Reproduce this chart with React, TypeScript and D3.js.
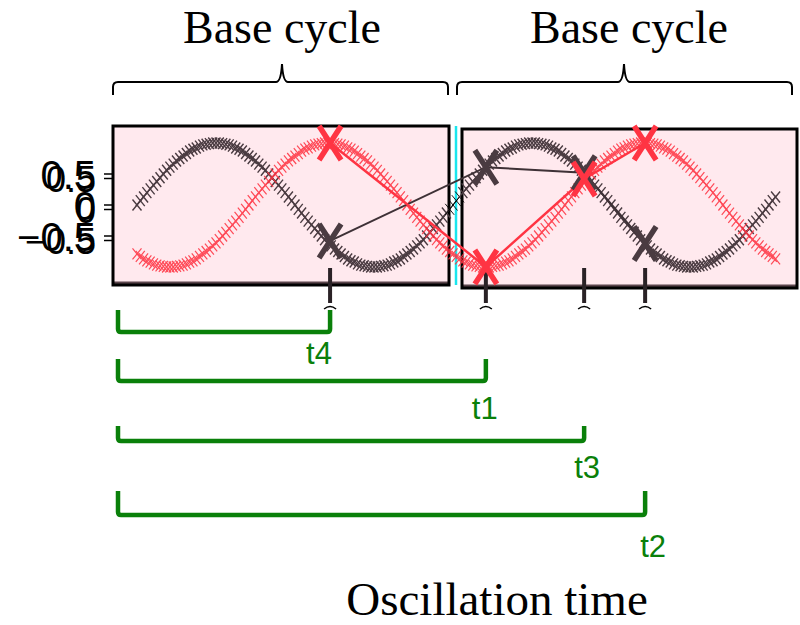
import React from 'react';
import * as d3 from 'd3';

// ---------- data ----------
const samplesPerCycle = 96;

const darkSeries = [
  0.00,0.07,0.13,0.20,0.26,0.32,0.38,0.44,0.50,0.56,0.61,0.66,0.71,0.75,0.79,0.83,0.87,0.90,0.92,0.95,0.97,0.98,0.99,1.00,1.00,
  1.00,0.99,0.98,0.97,0.95,0.92,0.90,0.87,0.83,0.79,0.75,0.71,0.66,0.61,0.56,0.50,0.44,0.38,0.32,0.26,0.20,0.13,0.07,0.00,
  -0.07,-0.13,-0.20,-0.26,-0.32,-0.38,-0.44,-0.50,-0.56,-0.61,-0.66,-0.71,-0.75,-0.79,-0.83,-0.87,-0.90,-0.92,-0.95,-0.97,-0.98,-0.99,-1.00,-1.00,
  -1.00,-0.99,-0.98,-0.97,-0.95,-0.92,-0.90,-0.87,-0.83,-0.79,-0.75,-0.71,-0.66,-0.61,-0.56,-0.50,-0.44,-0.38,-0.32,-0.26,-0.20,-0.13,-0.07,
  0.00,0.07,0.13,0.20,0.26,0.32,0.38,0.44,0.50,0.56,0.61,0.66,0.71,0.75,0.79,0.83,0.87,0.90,0.92,0.95,0.97,0.98,0.99,1.00,1.00,
  1.00,0.99,0.98,0.97,0.95,0.92,0.90,0.87,0.83,0.79,0.75,0.71,0.66,0.61,0.56,0.50,0.44,0.38,0.32,0.26,0.20,0.13,0.07,0.00,
  -0.07,-0.13,-0.20,-0.26,-0.32,-0.38,-0.44,-0.50,-0.56,-0.61,-0.66,-0.71,-0.75,-0.79,-0.83,-0.87,-0.90,-0.92,-0.95,-0.97,-0.98,-0.99,-1.00,-1.00,
  -1.00,-0.99,-0.98,-0.97,-0.95,-0.92,-0.90,-0.87,-0.83,-0.79,-0.75,-0.71,-0.66,-0.61,-0.56,-0.50,-0.44,-0.38,-0.32,-0.26,-0.20,-0.13,-0.07,
  0.00,0.07,0.13,
];

const redSeries = [
  -0.79,-0.83,-0.87,-0.90,-0.92,-0.95,-0.97,-0.98,-0.99,-1.00,-1.00,
  -1.00,-0.99,-0.98,-0.97,-0.95,-0.92,-0.90,-0.87,-0.83,-0.79,-0.75,-0.71,-0.66,-0.61,-0.56,-0.50,-0.44,-0.38,-0.32,-0.26,-0.20,-0.13,-0.07,
  0.00,0.07,0.13,0.20,0.26,0.32,0.38,0.44,0.50,0.56,0.61,0.66,0.71,0.75,0.79,0.83,0.87,0.90,0.92,0.95,0.97,0.98,0.99,1.00,1.00,
  1.00,0.99,0.98,0.97,0.95,0.92,0.90,0.87,0.83,0.79,0.75,0.71,0.66,0.61,0.56,0.50,0.44,0.38,0.32,0.26,0.20,0.13,0.07,0.00,
  -0.07,-0.13,-0.20,-0.26,-0.32,-0.38,-0.44,-0.50,-0.56,-0.61,-0.66,-0.71,-0.75,-0.79,-0.83,-0.87,-0.90,-0.92,-0.95,-0.97,-0.98,-0.99,-1.00,-1.00,
  -1.00,-0.99,-0.98,-0.97,-0.95,-0.92,-0.90,-0.87,-0.83,-0.79,-0.75,-0.71,-0.66,-0.61,-0.56,-0.50,-0.44,-0.38,-0.32,-0.26,-0.20,-0.13,-0.07,
  0.00,0.07,0.13,0.20,0.26,0.32,0.38,0.44,0.50,0.56,0.61,0.66,0.71,0.75,0.79,0.83,0.87,0.90,0.92,0.95,0.97,0.98,0.99,1.00,1.00,
  1.00,0.99,0.98,0.97,0.95,0.92,0.90,0.87,0.83,0.79,0.75,0.71,0.66,0.61,0.56,0.50,0.44,0.38,0.32,0.26,0.20,0.13,0.07,0.00,
  -0.07,-0.13,-0.20,-0.26,-0.32,-0.38,-0.44,-0.50,-0.56,-0.61,-0.66,-0.71,-0.75,-0.79,-0.83,-0.87,
];

const yTicks = [0.5, 0, -0.5];
const yTickLabels = ['0.5', '0', '\u22120.5'];

const eventLabels = ['t4', 't1', 't3', 't2'];
const eventTimes = [0.611, 1.104, 1.415, 1.608];
const darkAtEvents = [-0.58, 0.61, 0.52, -0.62];
const redAtEvents = [1.0, -1.0, 0.42, 1.0];

const cycleLabels = ['Base cycle', 'Base cycle'];
const xAxisTitle = 'Oscillation time';

// ---------- layout ----------
const W = 800;
const H = 625;
const panels = [
  { x0: 113, x1: 449, y0: 126, y1: 285 },
  { x0: 462, x1: 797, y0: 129, y1: 288 },
];
const braces = [
  { x0: 113, x1: 448, mid: 282, textX: 282 },
  { x0: 457, x1: 792, mid: 624, textX: 629 },
];
const bracketLeft = 118;
const bracketTops = [310, 359, 426, 491];
const bracketBottoms = [332, 381, 441, 515];
const labelDx = [-24, -14, -10, -5];
const labelBaselines = [364, 419, 478, 557];

const DARK = '#4a3b41';
const RED = '#ff3443';
const GREEN = '#0a800a';
const PINK = '#ffe9ee';

function crossPath(x: number, y: number, hx: number, hy: number) {
  return `M${x - hx},${y - hy}L${x + hx},${y + hy}M${x + hx},${y - hy}L${x - hx},${y + hy}`;
}

export default function App() {
  const x = d3.scaleLinear().domain([0, 2]).range([137, 769]);
  const y = d3.scaleLinear().domain([-1, 1]).range([267, 143]);

  const darkPts = darkSeries.map((v, i) => [x(i / samplesPerCycle), y(v)] as [number, number]);
  const redPts = redSeries.map((v, i) => [x(i / samplesPerCycle), y(v)] as [number, number]);

  const line = d3.line<[number, number]>().x(d => d[0]).y(d => d[1]);
  const darkEv = eventTimes.map((t, i) => [x(t), y(darkAtEvents[i])] as [number, number]);
  const redEv = eventTimes.map((t, i) => [x(t), y(redAtEvents[i])] as [number, number]);

  const sans = "'Liberation Sans', Arial, sans-serif";
  const serif = "'Liberation Serif', 'Times New Roman', serif";

  const bracePath = (b: typeof braces[number]) =>
    `M${b.x0},95V87Q${b.x0},82 ${b.x0 + 5},82H${b.mid - 6}Q${b.mid - 1},82 ${b.mid},64Q${b.mid + 1},82 ${b.mid + 6},82H${b.x1 - 5}Q${b.x1},82 ${b.x1},87V95`;

  const inGap = (px: number) => px > 449 && px < 462;

  return (
    <svg width={W} height={H} style={{ position: 'absolute', left: 0, top: 0, background: '#fff' }}>
      {/* panels */}
      {panels.map((p, i) => (
        <g key={i}>
          <rect x={p.x0} y={p.y0} width={p.x1 - p.x0} height={p.y1 - p.y0} fill={PINK} />
          <line x1={p.x0} x2={p.x1} y1={p.y1 - 2} y2={p.y1 - 2} stroke="#5a454b" strokeWidth={3} />
          <rect x={p.x0} y={p.y0} width={p.x1 - p.x0} height={p.y1 - p.y0} fill="none" stroke="#000" strokeWidth={3} />
        </g>
      ))}
      <line x1={456} x2={456} y1={126} y2={285} stroke="#19e6ee" strokeWidth={2.5} />

      {/* y axis: two overlapping tick/label sets (one per panel) */}
      {yTicks.map((t, i) => (
        <g key={i}>
          <line x1={104} x2={112} y1={y(t)} y2={y(t)} stroke="#000" strokeWidth={1.5} />
          <line x1={104} x2={112} y1={y(t) + 4.5} y2={y(t) + 4.5} stroke="#000" strokeWidth={1.5} />
          <text x={96} y={y(t) + 1} textAnchor="end" dominantBaseline="central" fontFamily={sans} fontSize={40} fill="#000">
            {yTickLabels[i]}
          </text>
          <text x={96} y={y(t) + 5} textAnchor="end" dominantBaseline="central" fontFamily={sans} fontSize={36} fill="#000">
            {yTickLabels[i]}
          </text>
        </g>
      ))}

      {/* dark series markers */}
      <g fill="none">
        {darkPts.map((p, i) => (
          <path key={i} d={crossPath(p[0], p[1], 4.5, 5.5)}
            stroke={inGap(p[0]) ? '#000' : DARK} strokeWidth={inGap(p[0]) ? 0.9 : 1.4} />
        ))}
      </g>
      {/* red series markers */}
      <g stroke={RED} strokeWidth={1.2} fill="none" opacity={0.88}>
        {redPts.map((p, i) => (
          <path key={i} d={crossPath(p[0], p[1], 4.5, 5.5)} />
        ))}
      </g>

      {/* event connectors */}
      <path d={line(darkEv) || ''} fill="none" stroke="#3e3136" strokeWidth={2} />
      <path d={line(redEv) || ''} fill="none" stroke={RED} strokeWidth={2.5} />

      {/* event ticks */}
      {eventTimes.map((t, i) => (
        <g key={i}>
          <line x1={x(t)} x2={x(t)} y1={268} y2={303} stroke="#2a2226" strokeWidth={4} />
          <path d={`M${x(t) - 6},309Q${x(t)},304 ${x(t) + 6},309`} fill="none" stroke="#000" strokeWidth={1.5} />
        </g>
      ))}

      {/* event big markers */}
      {darkEv.map((p, i) => (
        <path key={'d' + i} d={crossPath(p[0], p[1], 11, 17)} stroke={DARK} strokeWidth={5.5} fill="none" />
      ))}
      {redEv.map((p, i) => (
        <path key={'r' + i} d={crossPath(p[0], p[1], 11, 17)} stroke={RED} strokeWidth={5.5} fill="none" />
      ))}

      {/* braces */}
      {braces.map((b, i) => (
        <g key={i}>
          <path d={bracePath(b)} fill="none" stroke="#000" strokeWidth={2} />
          <text x={b.textX} y={43} textAnchor="middle" fontFamily={serif} fontSize={46} fill="#000">
            {cycleLabels[i]}
          </text>
        </g>
      ))}

      {/* green interval brackets */}
      {eventTimes.map((t, i) => {
        const xe = x(t);
        const top = bracketTops[i];
        const bot = bracketBottoms[i];
        return (
          <g key={i}>
            <path
              d={`M${bracketLeft},${top}V${bot - 3}Q${bracketLeft},${bot} ${bracketLeft + 3},${bot}H${xe - 3}Q${xe},${bot} ${xe},${bot - 3}V${top}`}
              fill="none" stroke={GREEN} strokeWidth={4.5} strokeLinejoin="round" />
            <text x={xe + labelDx[i]} y={labelBaselines[i]} fontFamily={sans} fontSize={31} fill={GREEN}>
              {eventLabels[i]}
            </text>
          </g>
        );
      })}

      <text x={497} y={615} textAnchor="middle" fontFamily={serif} fontSize={47} fill="#000">
        {xAxisTitle}
      </text>
    </svg>
  );
}
